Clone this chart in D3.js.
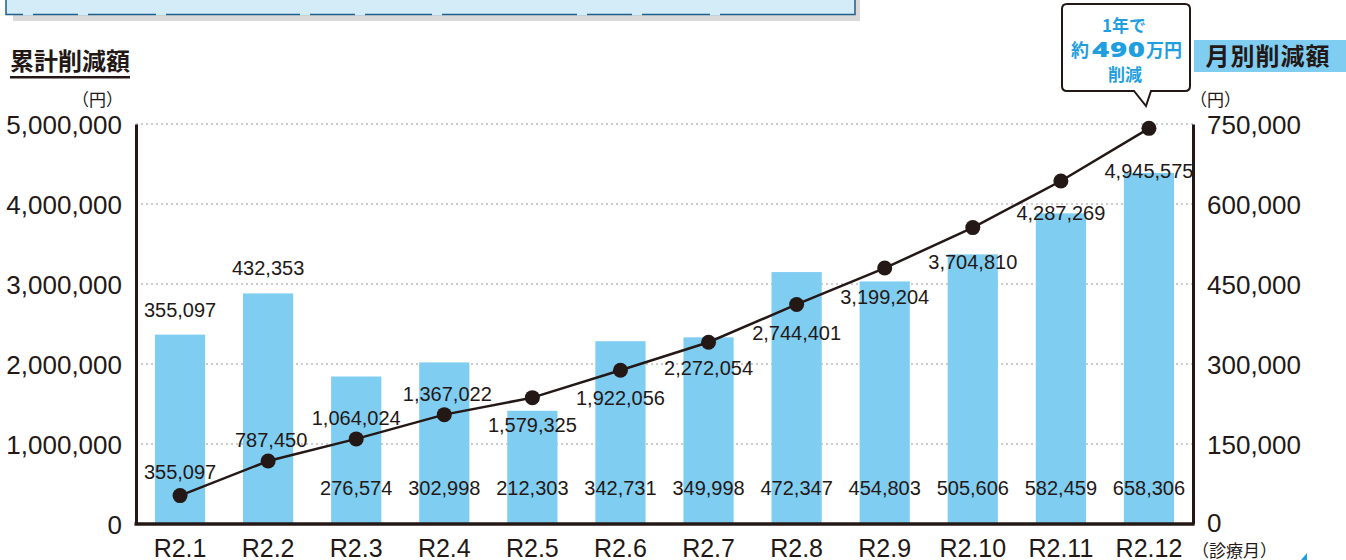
<!DOCTYPE html>
<html>
<head>
<meta charset="utf-8">
<script src="https://cdn.jsdelivr.net/npm/d3@7"></script>
<style>
  body { margin: 0; background: #fff; }
  text { font-family: "Liberation Sans", Arial, sans-serif; fill: #231815; }
  .jp { font-family: "Noto Sans CJK JP", sans-serif; }
</style>
</head>
<body>
<div id="chart"></div>
<script>
// data
const months = ["R2.1", "R2.2", "R2.3", "R2.4", "R2.5", "R2.6", "R2.7", "R2.8", "R2.9", "R2.10", "R2.11", "R2.12"];
const monthly = [355097, 432353, 276574, 302998, 212303, 342731, 349998, 472347, 454803, 505606, 582459, 658306];
const cumulative = [355097, 787450, 1064024, 1367022, 1579325, 1922056, 2272054, 2744401, 3199204, 3704810, 4287269, 4945575];
const leftTicks = [0, 1000000, 2000000, 3000000, 4000000, 5000000];
const rightTicks = [0, 150000, 300000, 450000, 600000, 750000];

const W = 1346, H = 560;
const plotL = 136, plotR = 1193, plotT = 124, plotB = 524;
const ink = "#231815", barColor = "#80cdf2", accent = "#1f9fdf";
const fmt = d3.format(",");

const svg = d3.select("#chart").append("svg")
  .attr("width", W).attr("height", H);

// cropped box from the block above the chart
svg.append("rect").attr("x", 13).attr("y", -10).attr("width", 847).attr("height", 31).attr("fill", "#d9d9d9");
svg.append("rect").attr("x", 6).attr("y", -10).attr("width", 849).attr("height", 24.5)
  .attr("fill", "#d3ecf8").attr("stroke", "#1f5f8c").attr("stroke-width", 1.5);
// breaks in the bottom edge
[23, 78, 156, 300, 355, 432, 577, 632, 710].forEach(g => {
  svg.append("rect").attr("x", g).attr("y", 13).attr("width", 10).attr("height", 2.5).attr("fill", "#d3ecf8");
});

// scales
const x = d3.scaleBand().domain(months).range([plotL, plotR]).paddingInner(0.43).paddingOuter(0.215);
const yL = d3.scaleLinear().domain([0, 5000000]).range([plotB, plotT]);
const yR = d3.scaleLinear().domain([0, 750000]).range([plotB, plotT]);

// gridlines
svg.append("g").selectAll("line").data(rightTicks.filter(d => d > 0)).join("line")
  .attr("x1", plotL).attr("x2", plotR)
  .attr("y1", d => yR(d)).attr("y2", d => yR(d))
  .attr("stroke", "#9a9a9a").attr("stroke-width", 1).attr("stroke-dasharray", "2,3");

// bars
svg.append("g").selectAll("rect").data(monthly).join("rect")
  .attr("x", (d, i) => x(months[i]))
  .attr("y", d => yR(d))
  .attr("width", x.bandwidth())
  .attr("height", d => plotB - yR(d))
  .attr("fill", barColor);

// axes
const axL = svg.append("g").attr("transform", `translate(${plotL},0)`)
  .call(d3.axisLeft(yL).tickValues(leftTicks).tickSize(0).tickPadding(14).tickFormat(fmt));
const axR = svg.append("g").attr("transform", `translate(${plotR},0)`)
  .call(d3.axisRight(yR).tickValues(rightTicks).tickSize(0).tickPadding(14).tickFormat(fmt));
[axL, axR].forEach(a => {
  a.select(".domain").attr("stroke", ink).attr("stroke-width", 3);
  a.selectAll("text").attr("font-size", 26).attr("fill", ink).attr("dy", "0.36em")
    .style("font-family", '"Liberation Sans", Arial, sans-serif');
});
axR.selectAll(".tick text").filter(d => d === 0).attr("dy", "0.3em");

const axB = svg.append("g").attr("transform", `translate(0,${plotB})`)
  .call(d3.axisBottom(x).tickSize(0).tickPadding(9));
axB.select(".domain").attr("stroke", ink).attr("stroke-width", 3.5).attr("d", `M${plotL - 1.5},0H${plotR + 1.5}`);
axB.selectAll("text").attr("font-size", 25).attr("fill", ink).attr("dy", "0.95em")
  .style("font-family", '"Liberation Sans", Arial, sans-serif');

// monthly labels
svg.append("g").selectAll("text").data(monthly).join("text")
  .attr("x", (d, i) => x(months[i]) + x.bandwidth() / 2)
  .attr("y", (d, i) => i < 2 ? yR(d) - 18 : 495)
  .attr("text-anchor", "middle").attr("font-size", 20)
  .text(d => fmt(d));

// cumulative line
const cx = i => x(months[i]) + x.bandwidth() / 2;
svg.append("path").datum(cumulative)
  .attr("fill", "none").attr("stroke", ink).attr("stroke-width", 2.5)
  .attr("d", d3.line().x((d, i) => cx(i)).y(d => yL(d)));
svg.append("g").selectAll("circle").data(cumulative).join("circle")
  .attr("cx", (d, i) => cx(i)).attr("cy", d => yL(d)).attr("r", 7.5).attr("fill", ink);

// cumulative labels: above for the first months, below afterwards
const cumLabelDy = [-17, -14, -14, -14, 34, 35, 33, 36, 36, 41, 39, 50];
svg.append("g").selectAll("text").data(cumulative).join("text")
  .attr("x", (d, i) => cx(i) + (i === 1 || i === 3 ? 3 : 0))
  .attr("y", (d, i) => yL(d) + cumLabelDy[i])
  .attr("text-anchor", "middle").attr("font-size", 20)
  .text(d => fmt(d));

// titles
svg.append("text").attr("class", "jp").attr("x", 10).attr("y", 70)
  .attr("font-size", 24).attr("font-weight", 700).text("累計削減額");
svg.append("rect").attr("x", 10).attr("y", 76).attr("width", 120).attr("height", 2.5).attr("fill", ink);
svg.append("text").attr("class", "jp").attr("x", 123).attr("y", 106)
  .attr("text-anchor", "end").attr("font-size", 17).text("（円）");

svg.append("rect").attr("x", 1194).attr("y", 40).attr("width", 152).attr("height", 32).attr("fill", "#80cdf2");
svg.append("text").attr("class", "jp").attr("x", 1268).attr("y", 65)
  .attr("text-anchor", "middle").attr("font-size", 24).attr("font-weight", 700)
  .attr("letter-spacing", 1).text("月別削減額");
svg.append("text").attr("class", "jp").attr("x", 1190).attr("y", 106)
  .attr("font-size", 17).text("（円）");
svg.append("text").attr("class", "jp").attr("x", 1192).attr("y", 557)
  .attr("font-size", 17).text("（診療月）");

// callout
const bx0 = 1062, bx1 = 1190, by0 = 4, by1 = 91, r = 5;
svg.append("path")
  .attr("d", `M${bx0 + r},${by0}H${bx1 - r}Q${bx1},${by0} ${bx1},${by0 + r}V${by1 - r}Q${bx1},${by1} ${bx1 - r},${by1}` +
    `H1151L1146,106L1134,${by1}H${bx0 + r}Q${bx0},${by1} ${bx0},${by1 - r}V${by0 + r}Q${bx0},${by0} ${bx0 + r},${by0}Z`)
  .attr("fill", "#fff").attr("stroke", ink).attr("stroke-width", 2);
svg.append("text").attr("class", "jp").attr("x", 1124).attr("y", 32)
  .attr("text-anchor", "middle").attr("font-size", 17).attr("font-weight", 700)
  .style("fill", accent).text("1年で");
svg.append("text").attr("class", "jp").attr("x", 1071).attr("y", 57)
  .attr("font-size", 18).attr("font-weight", 700).style("fill", accent).text("約");
svg.append("text").attr("transform", "translate(1092,57) scale(1.4,1)")
  .attr("font-size", 21).attr("font-weight", 900).attr("letter-spacing", 0.5)
  .style("font-family", '"Noto Sans", sans-serif').style("fill", accent).text("490");
svg.append("text").attr("class", "jp").attr("x", 1146).attr("y", 57)
  .attr("font-size", 18).attr("font-weight", 700).style("fill", accent).text("万円");
svg.append("text").attr("class", "jp").attr("x", 1125).attr("y", 81)
  .attr("text-anchor", "middle").attr("font-size", 17).attr("font-weight", 700)
  .style("fill", accent).text("削減");

// small corner mark
svg.append("path").attr("d", "M1301,560L1307,553V560Z").attr("fill", accent);
</script>
</body>
</html>
